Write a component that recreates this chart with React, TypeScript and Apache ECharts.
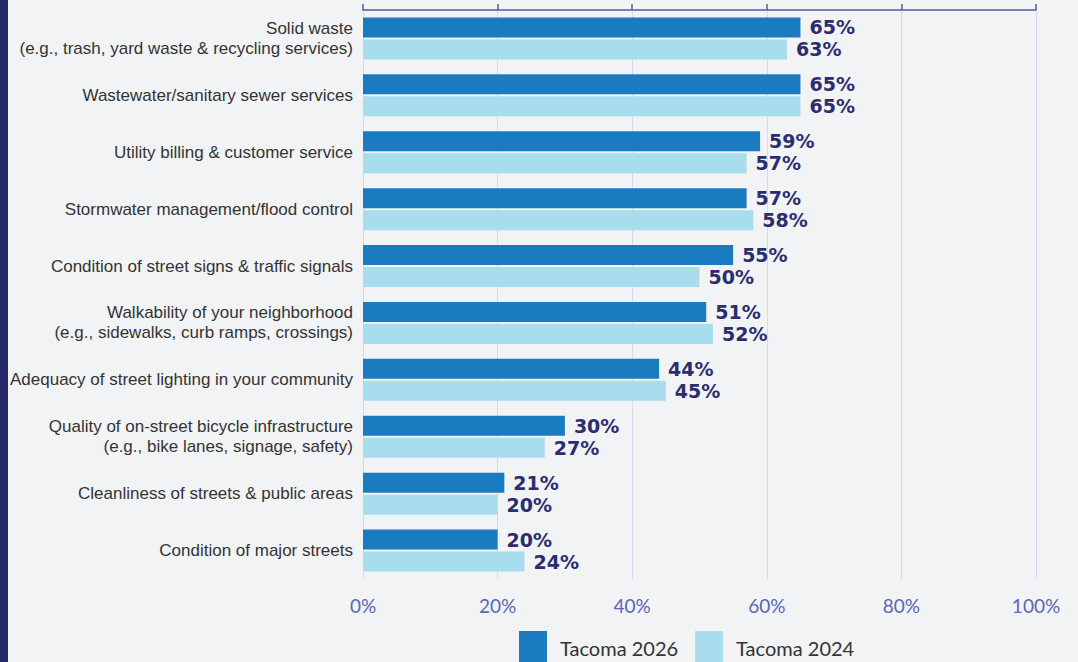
import React, { useEffect, useRef } from "react";
import * as echarts from "echarts";

const categories = [
  "Solid waste\n(e.g., trash, yard waste & recycling services)",
  "Wastewater/sanitary sewer services",
  "Utility billing & customer service",
  "Stormwater management/flood control",
  "Condition of street signs & traffic signals",
  "Walkability of your neighborhood\n(e.g., sidewalks, curb ramps, crossings)",
  "Adequacy of street lighting in your community",
  "Quality of on-street bicycle infrastructure\n(e.g., bike lanes, signage, safety)",
  "Cleanliness of streets & public areas",
  "Condition of major streets",
];
const tacoma2026 = [65, 65, 59, 57, 55, 51, 44, 30, 21, 20];
const tacoma2024 = [63, 65, 57, 58, 50, 52, 45, 27, 20, 24];
const seriesNames = ["Tacoma 2026", "Tacoma 2024"];
const xTicks = { min: 0, max: 100, interval: 20 };

export default function App() {
  const ref = useRef<HTMLDivElement>(null);
  useEffect(() => {
    const chart = echarts.init(ref.current!, null, { renderer: "svg" });
    const labelStyle = {
      show: true,
      position: "right" as const,
      distance: 9,
      formatter: "{c}%",
      color: "#2b2d6e",
      fontWeight: "bold" as const,
      fontSize: 19,
      lineHeight: 21,
      fontFamily: "DejaVu Sans",
    };
    chart.setOption({
      animation: false,
      backgroundColor: "#f2f3f5",
      graphic: [
        { type: "rect", left: 0, top: 0, shape: { width: 8, height: 662 }, style: { fill: "#26286a" } },
      ],
      grid: { left: 363, right: 42, top: 10, bottom: 83 },
      legend: {
        top: 631,
        left: 519,
        padding: 0,
        itemWidth: 28,
        itemHeight: 34,
        itemGap: 17,
        icon: "rect",
        textStyle: { fontSize: 20, color: "#333", fontFamily: "Lato", padding: [0, 0, 0, 8] },
        data: seriesNames,
      },
      xAxis: [
        {
          type: "value",
          ...xTicks,
          position: "bottom",
          axisLine: { show: false },
          axisTick: { show: false },
          splitLine: { show: true, lineStyle: { color: "#d8d9ee", width: 1 } },
          axisLabel: { formatter: "{value}%", color: "#5a66b4", fontSize: 19, fontFamily: "Lato", margin: 17 },
        },
        {
          type: "value",
          ...xTicks,
          position: "top",
          axisLine: { show: true, lineStyle: { color: "#565a9e", width: 1.5 } },
          axisTick: { show: true, length: 6, lineStyle: { color: "#565a9e", width: 1.5 } },
          axisLabel: { show: false },
          splitLine: { show: false },
        },
      ],
      yAxis: {
        type: "category",
        data: categories,
        inverse: true,
        axisLine: { show: false },
        axisTick: { show: false },
        axisLabel: {
          color: "#333",
          fontSize: 17,
          lineHeight: 20,
          fontFamily: "Liberation Sans",
          margin: 10,
          align: "right",
          padding: [4, 0, 0, 0],
        },
      },
      series: [
        {
          name: seriesNames[0],
          type: "bar",
          data: tacoma2026,
          barWidth: 20,
          barGap: "10%",
          itemStyle: { color: "#1b7bc0" },
          label: labelStyle,
        },
        {
          name: seriesNames[1],
          type: "bar",
          data: tacoma2024,
          barWidth: 20,
          itemStyle: { color: "#a8ddee" },
          label: labelStyle,
        },
      ],
    });
    return () => chart.dispose();
  }, []);
  return (
    <div
      ref={ref}
      style={{ position: "absolute", left: 0, top: 0, width: 1078, height: 662 }}
    />
  );
}
